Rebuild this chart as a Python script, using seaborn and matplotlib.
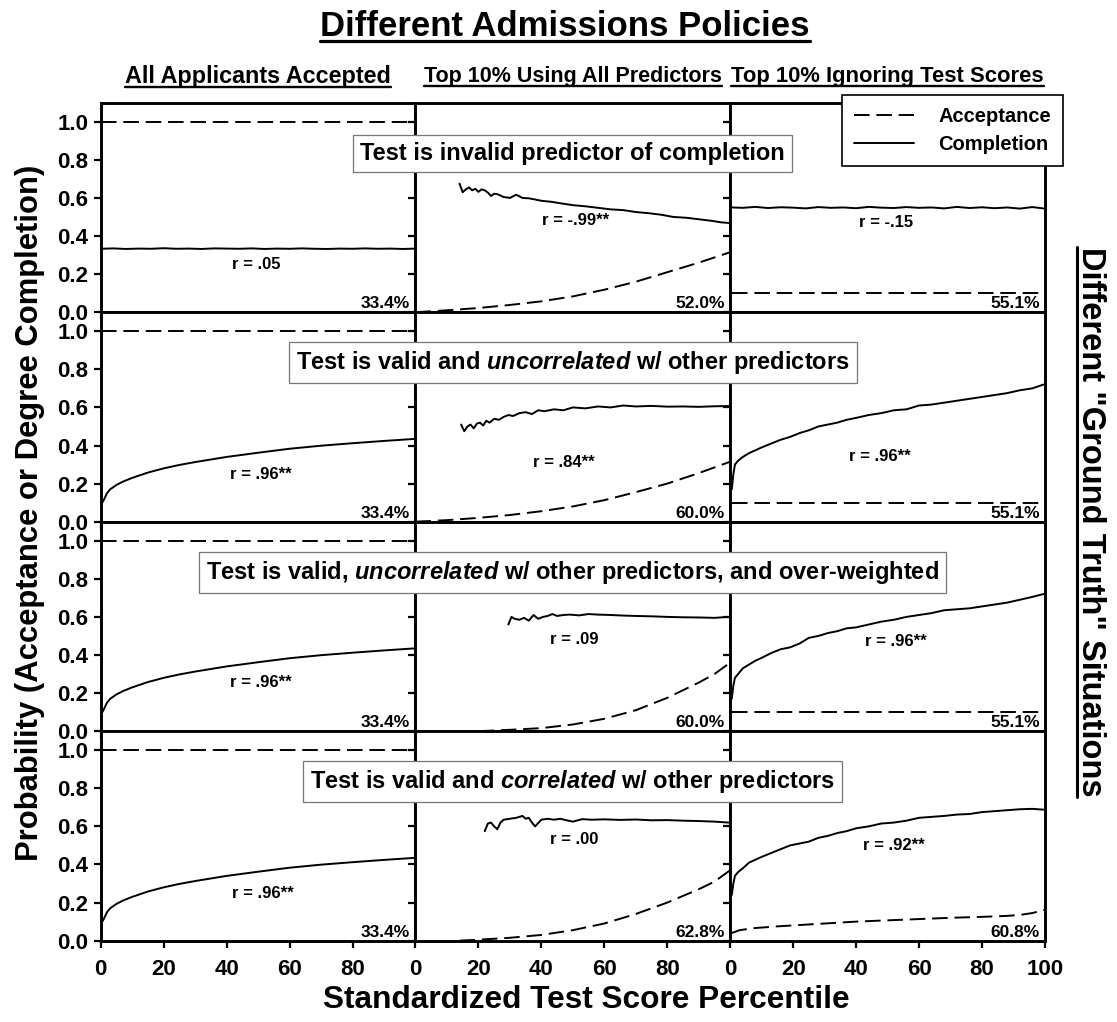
import numpy as np
import pandas as pd
import matplotlib
matplotlib.use("Agg")
import matplotlib.pyplot as plt
import matplotlib.transforms as mtransforms
from matplotlib.lines import Line2D
import seaborn as sns

# ---------------- text ----------------
TITLE = "Different Admissions Policies"
COL_TITLES = ["All Applicants Accepted", "Top 10% Using All Predictors", "Top 10% Ignoring Test Scores"]
ROW_TITLES = [
    "Test is invalid predictor of completion",
    "Test is valid and $uncorrelated$ w/ other predictors",
    "Test is valid, $uncorrelated$ w/ other predictors, and over-weighted",
    "Test is valid and $correlated$ w/ other predictors",
]
RIGHT_LABEL = 'Different "Ground Truth" Situations'
Y_LABEL = "Probability (Acceptance or Degree Completion)"
X_LABEL = "Standardized Test Score Percentile"
LEGEND_LABELS = ["Acceptance", "Completion"]

R_TEXT = [["r = .05", "r = -.99**", "r = -.15"],
          ["r = .96**", "r = .84**", "r = .96**"],
          ["r = .96**", "r = .09", "r = .96**"],
          ["r = .96**", "r = .00", "r = .92**"]]
R_POS = [[(49.5, 0.25), (51, 0.48), (49.5, 0.47)],
         [(51, 0.25), (47, 0.31), (47.5, 0.34)],
         [(51, 0.255), (50.5, 0.48), (52.5, 0.47)],
         [(51.5, 0.25), (50.5, 0.53), (52, 0.50)]]
PCT_TEXT = [["33.4%", "52.0%", "55.1%"],
            ["33.4%", "60.0%", "55.1%"],
            ["33.4%", "60.0%", "55.1%"],
            ["33.4%", "62.8%", "60.8%"]]

# ---------------- data ----------------
# all applicants accepted
ACC_ALL_X = [0, 100]
ACC_ALL_Y = [1.0, 1.0]
# top 10% ignoring test scores (flat acceptance)
ACC_FLAT_X = [0.5, 25, 50, 75, 99.5]
ACC_FLAT_Y = [0.10, 0.10, 0.10, 0.10, 0.10]

# row 1
R1C1_X = [0, 4, 8, 12, 16, 20, 24, 28, 32, 36, 40, 44, 48, 52, 56, 60, 64, 68, 72, 76, 80, 84, 88, 92, 96, 100]
R1C1_Y = [0.333, 0.335, 0.332, 0.334, 0.333, 0.336, 0.333, 0.334, 0.332, 0.335, 0.334, 0.333, 0.335,
          0.332, 0.334, 0.333, 0.335, 0.333, 0.332, 0.334, 0.333, 0.335, 0.333, 0.334, 0.332, 0.334]
R1C2_X = [14, 15, 16, 17, 18, 19, 20, 21, 22, 23, 24, 25, 26, 28, 30, 32, 34, 36, 38, 40,
          43, 46, 50, 54, 58, 62, 66, 70, 74, 78, 82, 86, 90, 94, 97, 100]
R1C2_Y = [0.675, 0.63, 0.645, 0.655, 0.64, 0.648, 0.632, 0.645, 0.64, 0.628, 0.61, 0.622, 0.62,
          0.605, 0.6, 0.617, 0.6, 0.598, 0.592, 0.585,
          0.58, 0.572, 0.562, 0.556, 0.548, 0.54, 0.536, 0.526, 0.52, 0.512, 0.5, 0.496, 0.488, 0.48, 0.472, 0.468]
R1C2_ACC_X = [0, 10, 20, 30, 40, 50, 60, 70, 80, 90, 100]
R1C2_ACC_Y = [0.0, 0.01, 0.022, 0.038, 0.057, 0.083, 0.118, 0.16, 0.21, 0.26, 0.315]
R1C3_X = [0.5, 4, 8, 12, 16, 20, 24, 28, 32, 36, 40, 44, 48, 52, 56, 60, 64, 68, 72, 76, 80, 84, 88, 92, 96, 99.5]
R1C3_Y = [0.55, 0.548, 0.553, 0.547, 0.551, 0.549, 0.545, 0.552, 0.548, 0.55, 0.546, 0.553, 0.549,
          0.547, 0.552, 0.548, 0.55, 0.545, 0.553, 0.547, 0.551, 0.546, 0.55, 0.544, 0.552, 0.545]

# all applicants accepted, valid test (rows 2-4)
LOG_X = [0.5, 1, 2, 3, 5, 7, 10, 15, 20, 25, 30, 40, 50, 60, 70, 80, 90, 100]
LOG_Y = [0.10, 0.115, 0.15, 0.17, 0.193, 0.21, 0.23, 0.258, 0.28, 0.298, 0.313, 0.34, 0.362,
         0.383, 0.399, 0.412, 0.424, 0.435]

# row 2
R2C2_X = [14.5, 15.5, 16.5, 17.5, 18.5, 19.5, 20.5, 21.5, 22.5, 23.5, 25, 26.5, 28, 29.5, 31, 33, 35,
          37, 39, 41, 44, 47, 50, 54, 58, 62, 66, 70, 75, 80, 85, 90, 95, 99.5]
R2C2_Y = [0.51, 0.475, 0.5, 0.51, 0.49, 0.515, 0.52, 0.505, 0.53, 0.52, 0.54, 0.535, 0.55, 0.56, 0.555,
          0.57, 0.575, 0.565, 0.585, 0.58, 0.59, 0.585, 0.6, 0.595, 0.605, 0.6, 0.61, 0.605, 0.608,
          0.604, 0.605, 0.603, 0.606, 0.607]
R2C2_ACC_X = [0, 10, 20, 30, 40, 50, 60, 70, 80, 90, 100]
R2C2_ACC_Y = [0.0, 0.008, 0.02, 0.035, 0.055, 0.08, 0.113, 0.155, 0.2, 0.255, 0.315]
C3_X = [0.5, 1, 1.5, 2.5, 4, 6, 8, 10, 13, 16, 19, 22, 25, 28, 31, 34, 37, 40, 44, 48, 52, 56, 60,
        64, 68, 72, 76, 80, 84, 88, 92, 96, 99.5]
R2C3_Y = [0.17, 0.25, 0.3, 0.32, 0.34, 0.36, 0.375, 0.39, 0.41, 0.43, 0.445, 0.465, 0.48, 0.5, 0.51,
          0.52, 0.535, 0.545, 0.56, 0.57, 0.585, 0.59, 0.61, 0.615, 0.625, 0.635, 0.645, 0.655,
          0.665, 0.675, 0.69, 0.7, 0.72]

# row 3
R3C2_X = [29.5, 30.5, 31.5, 33, 34.5, 36, 37.5, 39, 40.5, 42, 43.5, 45, 47, 49, 52, 55, 58, 62, 66,
          70, 75, 80, 85, 90, 95, 99.5]
R3C2_Y = [0.56, 0.6, 0.59, 0.585, 0.595, 0.58, 0.61, 0.59, 0.6, 0.605, 0.615, 0.605, 0.61, 0.612,
          0.608, 0.615, 0.612, 0.61, 0.607, 0.605, 0.603, 0.6, 0.598, 0.597, 0.595, 0.6]
R3C2_ACC_X = [20, 30, 40, 50, 60, 70, 80, 90, 95, 100]
R3C2_ACC_Y = [0.0, 0.007, 0.016, 0.035, 0.065, 0.11, 0.175, 0.255, 0.3, 0.36]
R3C3_Y = [0.17, 0.24, 0.28, 0.3, 0.33, 0.35, 0.37, 0.385, 0.41, 0.43, 0.44, 0.46, 0.49, 0.5, 0.515,
          0.525, 0.54, 0.545, 0.56, 0.575, 0.585, 0.6, 0.61, 0.62, 0.635, 0.64, 0.645, 0.655, 0.665,
          0.675, 0.69, 0.705, 0.72]

# row 4
R4C2_X = [22, 23, 24, 25, 26, 27, 28, 30, 32, 34, 35, 36, 37, 38, 40, 42, 44, 46, 48, 50, 53, 56,
          60, 65, 70, 75, 80, 85, 90, 95, 99.5]
R4C2_Y = [0.575, 0.615, 0.62, 0.6, 0.585, 0.62, 0.635, 0.64, 0.645, 0.655, 0.64, 0.645, 0.62, 0.6,
          0.635, 0.64, 0.635, 0.64, 0.632, 0.625, 0.638, 0.635, 0.637, 0.634, 0.636, 0.632, 0.633,
          0.63, 0.628, 0.625, 0.62]
R4C2_ACC_X = [14, 20, 30, 40, 50, 60, 70, 80, 90, 95, 100]
R4C2_ACC_Y = [0.0, 0.005, 0.015, 0.03, 0.055, 0.09, 0.14, 0.2, 0.27, 0.31, 0.37]
R4C3_Y = [0.24, 0.3, 0.34, 0.36, 0.38, 0.41, 0.425, 0.44, 0.46, 0.48, 0.5, 0.51, 0.52, 0.54, 0.55,
          0.565, 0.575, 0.59, 0.6, 0.615, 0.62, 0.63, 0.645, 0.65, 0.655, 0.662, 0.665, 0.675, 0.68,
          0.685, 0.69, 0.692, 0.688]
R4C3_ACC_X = [0.5, 3, 7, 15, 25, 40, 55, 70, 80, 88, 92, 96, 100]
R4C3_ACC_Y = [0.04, 0.055, 0.065, 0.075, 0.085, 0.1, 0.11, 0.12, 0.125, 0.13, 0.135, 0.145, 0.162]

# (acceptance x, acceptance y, completion x, completion y) per panel
PANELS = [
    [(ACC_ALL_X, ACC_ALL_Y, R1C1_X, R1C1_Y), (R1C2_ACC_X, R1C2_ACC_Y, R1C2_X, R1C2_Y), (ACC_FLAT_X, ACC_FLAT_Y, R1C3_X, R1C3_Y)],
    [(ACC_ALL_X, ACC_ALL_Y, LOG_X, LOG_Y), (R2C2_ACC_X, R2C2_ACC_Y, R2C2_X, R2C2_Y), (ACC_FLAT_X, ACC_FLAT_Y, C3_X, R2C3_Y)],
    [(ACC_ALL_X, ACC_ALL_Y, LOG_X, LOG_Y), (R3C2_ACC_X, R3C2_ACC_Y, R3C2_X, R3C2_Y), (ACC_FLAT_X, ACC_FLAT_Y, C3_X, R3C3_Y)],
    [(ACC_ALL_X, ACC_ALL_Y, LOG_X, LOG_Y), (R4C2_ACC_X, R4C2_ACC_Y, R4C2_X, R4C2_Y), (R4C3_ACC_X, R4C3_ACC_Y, C3_X, R4C3_Y)],
]

# ---------------- style ----------------
sns.set_theme(style="ticks")
plt.rcParams['font.family'] = ['Liberation Sans', 'DejaVu Sans']
plt.rcParams['font.weight'] = 'bold'
plt.rcParams['text.color'] = 'black'
plt.rcParams['axes.labelcolor'] = 'black'
plt.rcParams['xtick.color'] = 'black'
plt.rcParams['ytick.color'] = 'black'
plt.rcParams['mathtext.fontset'] = 'custom'
plt.rcParams['mathtext.rm'] = 'Liberation Sans:bold'
plt.rcParams['mathtext.it'] = 'Liberation Sans:italic:bold'
plt.rcParams['mathtext.bf'] = 'Liberation Sans:bold'

DASH = (0, (8, 3.5))
LW = 1.4

fig, axes = plt.subplots(4, 3, figsize=(11.17, 10.22), dpi=100)
fig.subplots_adjust(left=0.0902, right=0.9355, top=0.8995, bottom=0.0796, wspace=0, hspace=0)

for r in range(4):
    for c in range(3):
        ax = axes[r, c]
        ax_x, ax_y, cx, cy = PANELS[r][c]
        df_acc = pd.DataFrame({"x": ax_x, "y": ax_y})
        df_comp = pd.DataFrame({"x": cx, "y": cy})
        sns.lineplot(data=df_acc, x="x", y="y", ax=ax, color="black", lw=LW, linestyle=DASH,
                     estimator=None, sort=False, legend=False)
        sns.lineplot(data=df_comp, x="x", y="y", ax=ax, color="black", lw=LW, linestyle="-",
                     estimator=None, sort=False, legend=False)
        ax.set_xlim(0, 100)
        ax.set_ylim(0, 1.1)
        ax.set_xlabel("")
        ax.set_ylabel("")
        for sp in ax.spines.values():
            sp.set_visible(True)
            sp.set_color("black")
            sp.set_linewidth(2.1)
        ax.set_yticks([0, 0.2, 0.4, 0.6, 0.8, 1.0])
        ax.set_xticks([0, 20, 40, 60, 80, 100] if c == 2 else [0, 20, 40, 60, 80])
        ax.tick_params(direction="out", length=5, width=1.6, color="black", labelcolor="black",
                       labelsize=16, pad=4)
        if c == 0:
            ax.set_yticklabels(["0.0", "0.2", "0.4", "0.6", "0.8", "1.0"], fontweight="bold")
        else:
            ax.set_yticklabels([])
        if r == 3:
            ax.set_xticklabels([str(v) for v in ax.get_xticks().astype(int)], fontweight="bold")
            ax.tick_params(axis="x", pad=8)
        else:
            ax.set_xticklabels([])
        rx, ry = R_POS[r][c]
        ax.text(rx, ry, R_TEXT[r][c], ha="center", va="center", fontsize=12, fontweight="bold",
                color="black")
        ax.text(98.3, 0.006, PCT_TEXT[r][c], ha="right", va="bottom", fontsize=12.5, fontweight="bold",
                color="black")

# row situation boxes, centred across the grid
xmid = (0.0902 + 0.9355) / 2
for r in range(4):
    tr = mtransforms.blended_transform_factory(fig.transFigure, axes[r, 0].transData)
    fig.text(xmid, 0.835, ROW_TITLES[r], transform=tr, ha="center", va="center", fontsize=17,
             fontweight="bold", zorder=10, color="black",
             bbox=dict(boxstyle="square,pad=0.3", fc="white", ec="#777777", lw=0.9))

# legend
handles = [Line2D([], [], color="black", lw=LW, linestyle=DASH),
           Line2D([], [], color="black", lw=LW, linestyle="-")]
leg = fig.legend(handles, LEGEND_LABELS, loc="upper right", bbox_to_anchor=(0.9517, 0.907),
                 borderaxespad=0, frameon=True, fancybox=False, edgecolor="black", framealpha=1,
                 handlelength=3.0, borderpad=0.6, labelspacing=0.45, handletextpad=1.2,
                 prop=dict(size=14.5, weight="bold"))
leg.get_frame().set_linewidth(1.2)
leg.set_zorder(11)
for txt in leg.get_texts():
    txt.set_color("black")

# titles & labels
t_title = fig.text(0.506, 0.9745, TITLE, ha="center", va="center", fontsize=25, fontweight="bold")
col_centres = [0.0902 + (0.9355 - 0.0902) * (i + 0.5) / 3 for i in range(3)]
col_sizes = [16.8, 15.5, 15.8]
t_cols = [fig.text(x, 0.9247, s, ha="center", va="center", fontsize=fs, fontweight="bold")
          for x, s, fs in zip(col_centres, COL_TITLES, col_sizes)]
t_right = fig.text(0.976, 0.489, RIGHT_LABEL, ha="center", va="center", rotation=-90,
                   fontsize=23.5, fontweight="bold")
fig.text(0.027, 0.4985, Y_LABEL, ha="center", va="center", rotation=90, fontsize=22.3, fontweight="bold")
fig.text(0.5245, 0.0215, X_LABEL, ha="center", va="center", fontsize=22.8, fontweight="bold")

# underlines
fig.canvas.draw()
renderer = fig.canvas.get_renderer()
inv = fig.transFigure.inverted()


def underline_h(t, frac, lw):
    bb = t.get_window_extent(renderer)
    y = bb.y0 + frac * bb.height
    (x0, y0), (x1, _) = inv.transform([(bb.x0, y), (bb.x1, y)])
    fig.add_artist(Line2D([x0, x1], [y0, y0], color="black", lw=lw, transform=fig.transFigure))


def underline_v(t, frac, lw):
    bb = t.get_window_extent(renderer)
    x = bb.x0 + frac * bb.width
    (x0, y0), (_, y1) = inv.transform([(x, bb.y0), (x, bb.y1)])
    fig.add_artist(Line2D([x0, x0], [y0, y1], color="black", lw=lw, transform=fig.transFigure))


underline_h(t_title, 0.06, 2.3)
for t in t_cols:
    underline_h(t, 0.08, 1.7)
underline_v(t_right, 0.06, 2.2)

fig.savefig("out.png", dpi=100)
